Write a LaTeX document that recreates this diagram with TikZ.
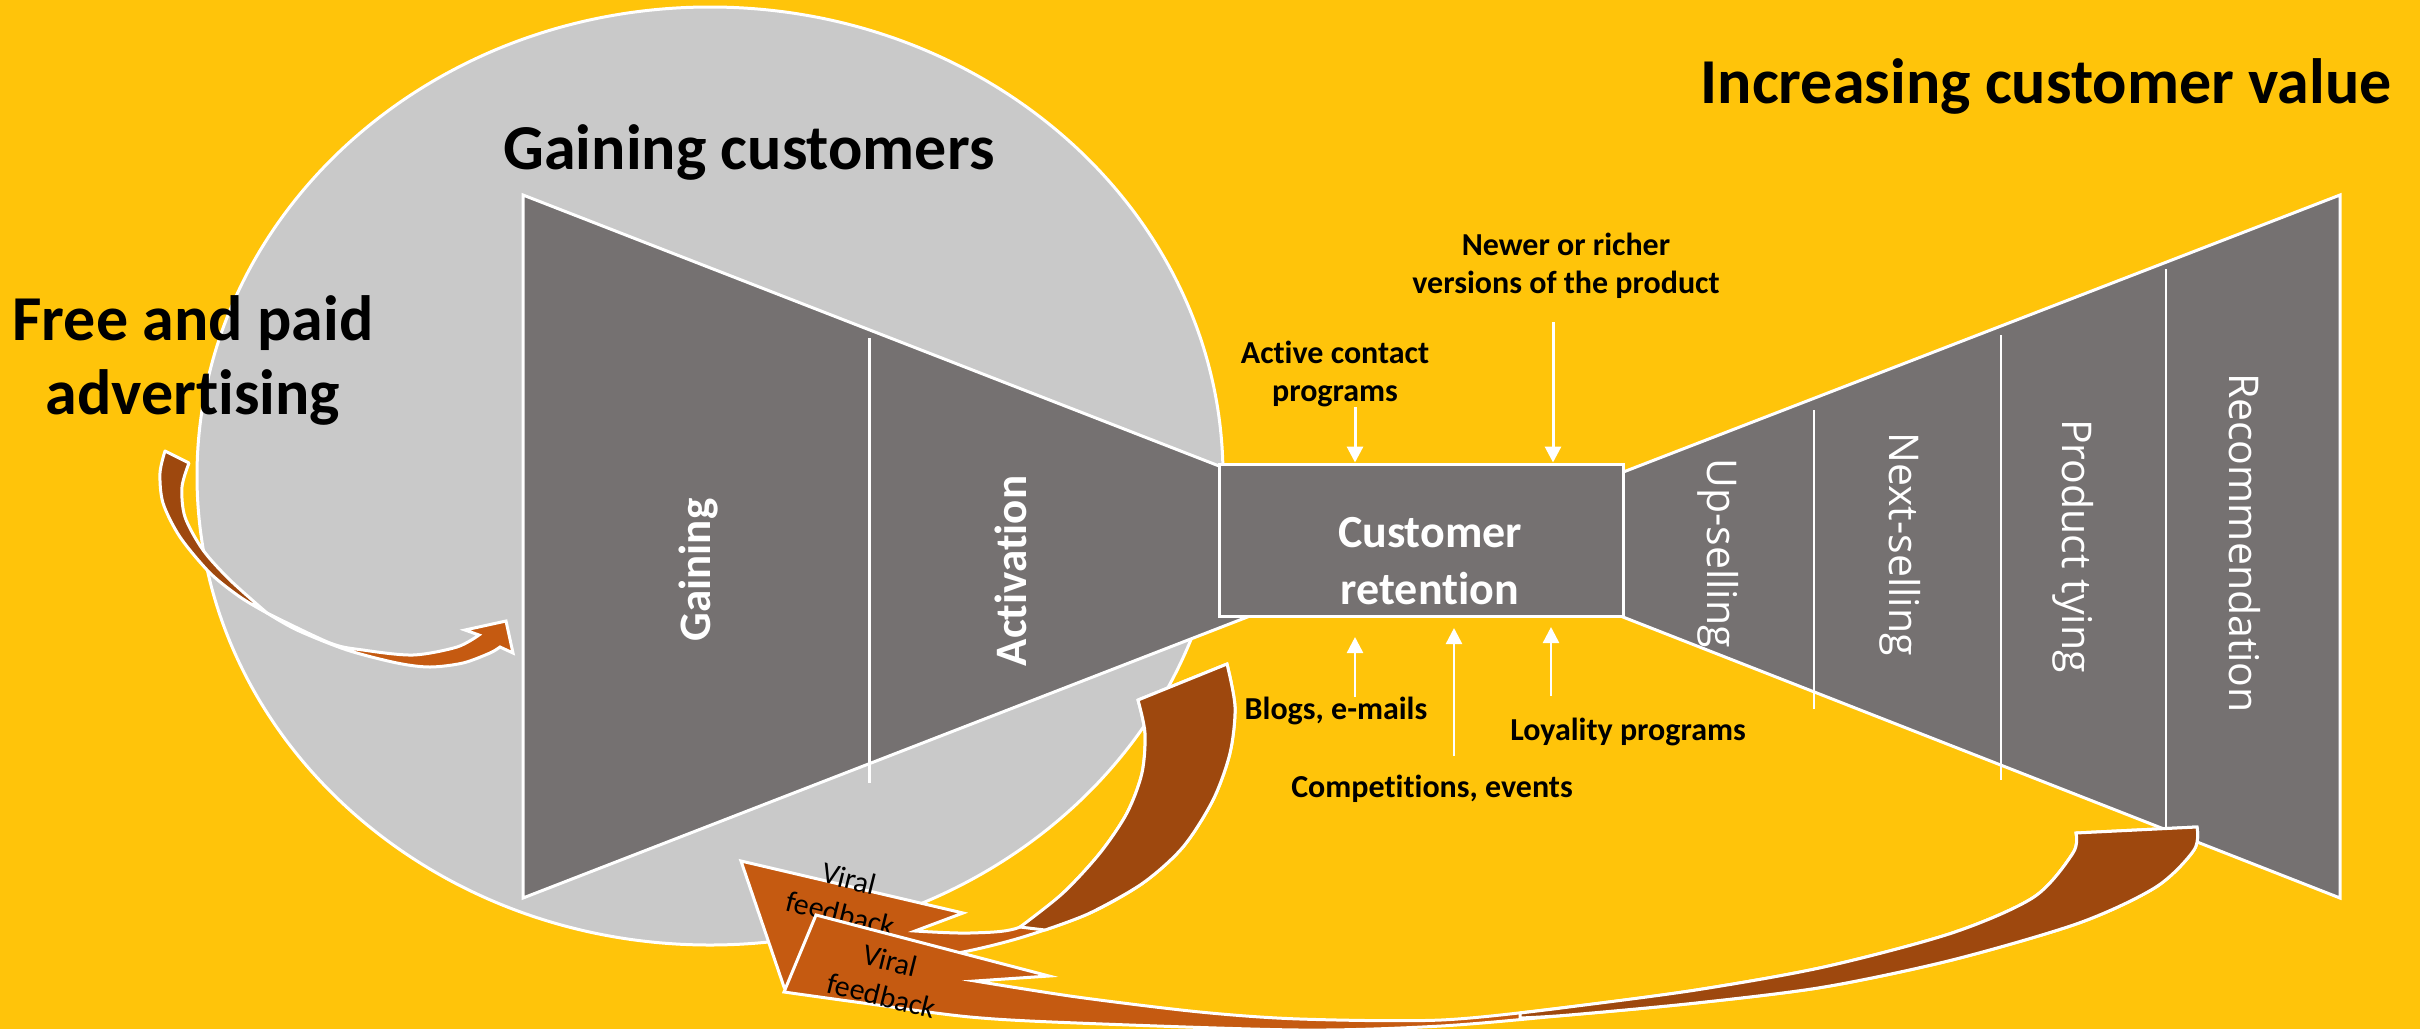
\documentclass[tikz,border=0pt]{standalone}
\usepackage{fontspec}
\setmainfont{Carlito}[Ligatures=CommonOff]
\newfontfamily\osans{Open Sans}
\usetikzlibrary{arrows.meta}
\definecolor{bgy}{HTML}{FFC40A}
\definecolor{ellg}{HTML}{C9C9C9}
\definecolor{fung}{HTML}{757171}
\definecolor{brdark}{HTML}{9E480E}
\definecolor{brlight}{HTML}{C55A11}
\begin{document}
\begin{tikzpicture}[x=1pt,y=-1pt,
  title/.style={font=\bfseries\fontsize{64}{74}\selectfont, inner sep=0pt, align=center},
  small/.style={font=\bfseries\fontsize{32}{38}\selectfont, inner sep=0pt, align=center},
  stage/.style={font=\bfseries\fontsize{45}{54}\selectfont, text=white, inner sep=0pt, rotate=90},
  stageR/.style={font=\osans\fontsize{41}{48}\selectfont, text=white, inner sep=0pt, rotate=-90},
  funnel/.style={fill=fung, draw=white, line width=3pt, line join=miter},
  wline/.style={draw=white, line width=3pt},
  thinline/.style={draw=white, line width=1.5pt},
  warrow/.style={draw=white, line width=3pt, -{Triangle[length=16pt,width=16pt]}},
  darkrib/.style={fill=brdark, draw=white, line width=3pt, line join=round},
  lightrib/.style={fill=brlight, draw=white, line width=3pt, line join=miter},
  viral/.style={font=\fontsize{30}{36}\selectfont, align=center, inner sep=0pt, rotate=-14},
  boxstyle/.style={fill=fung, draw=white, line width=3pt, minimum width=404pt, minimum height=152pt, inner sep=0pt},
  boxtext/.style={font=\bfseries\fontsize{46}{57}\selectfont, text=white, align=center, inner sep=0pt}
]
\useasboundingbox (0,0) rectangle (2420,1029);
\fill[bgy] (0,0) rectangle (2420,1029);

% gaining customers ellipse
\draw[fill=ellg, draw=white, line width=3pt] (710,476) ellipse [x radius=513pt, y radius=469pt];

% left funnel
\path[funnel] (523,195) -- (1250,478) -- (1250,616) -- (523,898) -- cycle;
\draw[wline] (869,338) -- (869,783);

% right funnel
\path[funnel] (1600,481) -- (2340,195) -- (2340,898) -- (1600,608) -- cycle;
\draw[thinline] (1814,410) -- (1814,709);
\draw[thinline] (2001,335) -- (2001,780);
\draw[thinline] (2166,269) -- (2166,827);

% retention box
\node[boxstyle] (box) at (1421,540) {};
\node[boxtext] (boxlbl) at (1430,561) {Customer\\retention};

% titles
\node[title, anchor=east] (inc) at (2392,86) {Increasing customer value};
\node[title] (gain) at (749,152) {Gaining customers};
\node[title] (adv) at (193,360) {Free and paid\\advertising};

% stage labels
\node[stage] (sg1) at (699,570) {Gaining};
\node[stage] (sg2) at (1011,571) {Activation};
\node[stageR] (sr1) at (1718,553) {Up-selling};
\node[stageR] (sr2) at (1900,544) {Next-selling};
\node[stageR] (sr3) at (2073,546) {Product tying};
\node[stageR] (sr4) at (2245,543) {Recommendation};

% small labels
\node[small] (newer) at (1566,266) {Newer or richer\\versions of the product};
\node[small] (active) at (1335,374) {Active contact\\programs};
\node[small] (blogs) at (1336,711) {Blogs, e-mails};
\node[small] (comp) at (1432,789) {Competitions, events};
\node[small] (loyal) at (1628,732) {Loyality programs};

% white arrows
\coordinate (ta) at (1355,407);
\coordinate (tn) at (1553,322);
\draw[warrow] (ta) -- (ta |- box.north);
\draw[warrow] (tn) -- (tn |- box.north);
\coordinate (ba) at (1355,697); \coordinate (bat) at (1355,637);
\coordinate (bc) at (1454,756); \coordinate (bct) at (1454,628);
\coordinate (bl) at (1551,696); \coordinate (blt) at (1551,627);
\draw[warrow, line width=2.5pt] (ba) -- (bat);
\draw[warrow, line width=2.5pt] (bc) -- (bct);
\draw[warrow, line width=2.5pt] (bl) -- (blt);

% advertising arrow
\path[darkrib] plot[smooth] coordinates {(189,463) (182,487) (185,517) (203,550) (230,580) (267,613)}
  -- plot[smooth] coordinates {(267,613) (240,597) (210,573) (180,537) (163,503) (160,473) (165,451)} -- cycle;
\path[lightrib] plot[smooth] coordinates {(267,613) (297,630) (347,650) (397,663) (430,667) (463,663) (490,653) (500,647)}
  -- (513,653) -- (506,621) -- (465,630) -- (479,635)
  -- plot[smooth] coordinates {(479,635) (457,647) (413,655) (363,650) (330,643) (267,613)} -- cycle;

% viral feedback arrow 1 (from retention)
\path[lightrib] (741,861) -- (963,913) -- (915,931)
  -- plot[smooth] coordinates {(915,931) (970,933) (1020,927) (1063,893) (1100,853) (1127,813) (1142,773) (1145,733) (1138,700)}
  -- (1227,664)
  -- plot[smooth] coordinates {(1227,664) (1235,707) (1230,753) (1213,800) (1183,847) (1143,883) (1090,913) (1023,937) (963,952) (900,961) (830,968)}
  -- (784,987) -- cycle;
\path[darkrib] plot[smooth] coordinates {(1020,927) (1063,893) (1100,853) (1127,813) (1142,773) (1145,733) (1138,700)}
  -- (1227,664)
  -- plot[smooth] coordinates {(1227,664) (1235,707) (1230,753) (1213,800) (1183,847) (1143,883) (1090,913) (1045,930)} -- cycle;
\node[viral] (vf1) at (845,896) {Viral\\feedback};

% viral feedback arrow 2 (from recommendation)
\path[lightrib] (816,915) -- (1049,976) -- (975,981)
  -- plot[smooth] coordinates {(975,981) (1077,997) (1200,1012) (1300,1019) (1441,1020) (1569,1007) (1696,990) (1824,967) (1952,933) (2034,897) (2073,853) (2076,833)}
  -- (2197,827)
  -- plot[smooth] coordinates {(2197,827) (2194,850) (2156,887) (2079,923) (1952,960) (1824,987) (1696,1003) (1569,1015) (1441,1026) (1300,1030) (1077,1023) (970,1017) (863,1003) (784,992)}
  -- cycle;
\path[darkrib] plot[smooth] coordinates {(1520,1013) (1569,1007) (1696,990) (1824,967) (1952,933) (2034,897) (2073,853) (2076,833)}
  -- (2197,827)
  -- plot[smooth] coordinates {(2197,827) (2194,850) (2156,887) (2079,923) (1952,960) (1824,987) (1696,1003) (1569,1015) (1520,1018)} -- cycle;
\node[viral] (vf2) at (886,978) {Viral\\feedback};
\end{tikzpicture}
\end{document}
